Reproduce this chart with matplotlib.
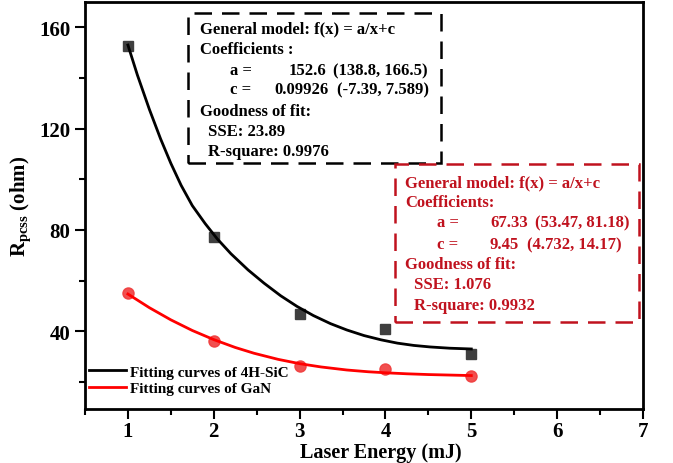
import matplotlib
matplotlib.use("Agg")
import matplotlib.pyplot as plt
from matplotlib.patches import Rectangle
from matplotlib.ticker import MultipleLocator

plt.rcParams['font.family'] = ['Liberation Serif', 'DejaVu Serif']
plt.rcParams['font.weight'] = 'bold'
plt.rcParams['mathtext.fontset'] = 'custom'
plt.rcParams['mathtext.rm'] = 'Liberation Serif:bold'
plt.rcParams['mathtext.bf'] = 'Liberation Serif:bold'

# measured points
energy = [1, 2, 3, 4, 5]
sic_r = [152.5, 77.1, 47.0, 40.9, 31.2]
gan_r = [55.0, 36.1, 26.2, 25.2, 22.2]

# fitted curves
sic_fit_x = [1.0, 1.11, 1.25, 1.38, 1.5, 1.62, 1.75, 1.9, 2.04, 2.2, 2.4, 2.585,
             2.78, 2.97, 3.16, 3.36, 3.55, 3.75, 3.95, 4.14, 4.33, 4.52, 4.75, 5.0]
sic_fit_y = [153.0, 141.2, 127.6, 116.0, 106.3, 97.6, 89.6, 82.5, 76.5, 70.6, 64.2, 59.0,
             54.0, 49.8, 46.2, 43.0, 40.5, 38.3, 36.6, 35.3, 34.4, 33.8, 33.3, 33.0]
gan_fit_x = [1.0, 1.25, 1.5, 1.75, 2.0, 2.25, 2.47, 2.75, 3.0, 3.25, 3.55, 3.8,
             4.0, 4.25, 4.5, 4.75, 5.0]
gan_fit_y = [54.7, 49.3, 44.5, 40.3, 36.7, 33.6, 31.3, 28.9, 27.2, 25.9, 24.7, 24.0,
             23.6, 23.2, 22.9, 22.7, 22.5]

W, H = 673, 464
fig = plt.figure(figsize=(W / 100, H / 100), dpi=100)
ax = fig.add_axes([85 / W, 1 - 410 / H, (643 - 85) / W, (410 - 3) / H])

ax.plot(sic_fit_x, sic_fit_y, color='black', lw=2, label='Fitting curves of 4H-SiC',
        zorder=3, solid_joinstyle='round')
ax.plot(gan_fit_x, gan_fit_y, color='#ff0000', lw=2, label='Fitting curves of GaN',
        zorder=3, solid_joinstyle='round')
ax.plot(energy, sic_r, 's', color='#3f3f3f', ms=7, zorder=2)
ax.plot(energy, gan_r, 'o', color='#f03c3c', ms=8, alpha=0.9, zorder=2)

ax.set_xlim(0.5, 7)
ax.set_ylim(9.3, 170)
ax.xaxis.set_major_locator(MultipleLocator(1))
ax.xaxis.set_minor_locator(MultipleLocator(0.5))
ax.yaxis.set_major_locator(MultipleLocator(40))
ax.yaxis.set_minor_locator(MultipleLocator(20))
ax.set_xticks([1, 2, 3, 4, 5, 6, 7])
ax.tick_params(which='both', direction='out', width=1.5, top=False, right=False, labelsize=15)
ax.tick_params(which='major', length=7)
ax.tick_params(which='minor', length=4)
ax.tick_params(axis='x', pad=2)
for s in ax.spines.values():
    s.set_linewidth(2)

ax.set_xlabel('Laser Energy (mJ)', fontsize=14.5, fontweight='bold', va='center')
ax.xaxis.set_label_coords(0.53, -0.105)
ax.set_ylabel(r'$\mathbf{R_{pcss}}$ (ohm)', fontsize=15, fontweight='bold')
ax.yaxis.set_label_coords(-0.094, 0.5)

ax.legend(loc='lower left', frameon=False, fontsize=11, handlelength=2.4,
          handletextpad=0.25, borderaxespad=0.1, labelspacing=0.2,
          bbox_to_anchor=(-0.006, 0.015))


def px(x, y):
    return x / W, 1 - y / H


def box(x0, y0, x1, y1, color):
    fig.patches.append(Rectangle(px(x0, y1), (x1 - x0) / W, (y1 - y0) / H,
                                 transform=fig.transFigure, fill=False,
                                 ec=color, lw=1.8, ls=(0, (7, 4))))


def txt(x, y, s, color, ha='left'):
    fig.text(*px(x, y), s, color=color, fontsize=12, fontweight='bold', ha=ha, va='center')


# black fit summary
k = 'black'
box(188, 14, 441, 164, k)
txt(200, 29, 'General model: f(x) = a/x+c', k)
txt(200, 50, 'Coefficients :', k)
txt(230, 71, 'a =', k)
txt(326, 71, '152.6', k, 'right')
txt(333, 71, '(138.8, 166.5)', k)
txt(230, 90, 'c =', k)
txt(329, 90, '0.09926', k, 'right')
txt(337, 90, '(-7.39, 7.589)', k)
txt(200, 112, 'Goodness of fit:', k)
txt(208, 132, 'SSE: 23.89', k)
txt(208, 152, 'R-square: 0.9976', k)

# GaN fit summary
r = '#c0121e'
box(395, 165, 639, 323, r)
txt(405, 183, 'General model: f(x) = a/x+c', r)
txt(405, 203, 'Coefficients:', r)
txt(437, 223, 'a =', r)
txt(528, 223, '67.33', r, 'right')
txt(535, 223, '(53.47, 81.18)', r)
txt(437, 245, 'c =', r)
txt(519, 245, '9.45', r, 'right')
txt(527, 245, '(4.732, 14.17)', r)
txt(405, 265, 'Goodness of fit:', r)
txt(414, 285, 'SSE: 1.076', r)
txt(414, 306, 'R-square: 0.9932', r)

fig.savefig('out.png', dpi=100)
